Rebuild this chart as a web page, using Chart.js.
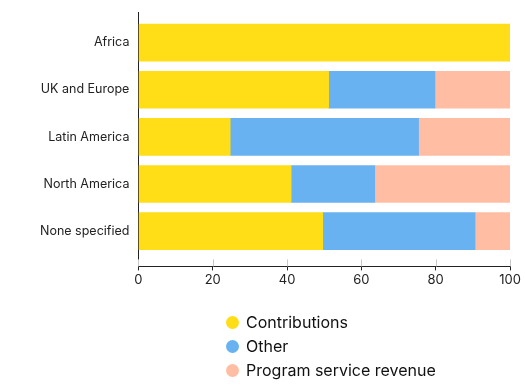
<!DOCTYPE html>
<html>
<head>
<meta charset="utf-8">
<script src="https://cdn.jsdelivr.net/npm/chart.js@4.4.0/dist/chart.umd.min.js"></script>
<style>
  body { margin: 0; background: #fff; }
  #wrap { position: relative; width: 525px; height: 388px; }
  #legend {
    position: absolute; left: 226px; top: 310px;
    font-family: Inter, sans-serif; font-size: 16px; color: #111;
  }
  #legend div { height: 24px; line-height: 24px; display: flex; align-items: center; }
  #legend span.dot { width: 13px; height: 13px; border-radius: 50%; margin-right: 7px; display: inline-block; }
</style>
</head>
<body>
<div id="wrap">
  <canvas id="chart" width="525" height="388"></canvas>
  <div id="legend"></div>
</div>
<script>
var regions = ['Africa', 'UK and Europe', 'Latin America', 'North America', 'None specified'];
var contributions = [100, 51.2, 24.7, 41.1, 49.6];
var other = [0, 28.6, 50.7, 22.5, 41.0];
var programRevenue = [0, 20.2, 24.6, 36.4, 9.4];
var xTicks = [0, 20, 40, 60, 80, 100];

var seriesNames = ['Contributions', 'Other', 'Program service revenue'];
var seriesColors = ['#FFDD17', '#69B2F1', '#FFBEA3'];

function toPoints(values) {
    return values.map(function (v, i) { return { x: v, y: i }; });
}

// light tick marks sitting just above the x axis line
var innerTicks = {
    id: 'innerTicks',
    afterDatasetsDraw: function (chart) {
        var ctx = chart.ctx, x = chart.scales.x, bottom = chart.chartArea.bottom;
        ctx.save();
        ctx.strokeStyle = '#c8c8c8';
        ctx.lineWidth = 1;
        xTicks.forEach(function (t) {
            var px = Math.round(x.getPixelForValue(t)) + 0.5;
            ctx.beginPath();
            ctx.moveTo(px, bottom - 7);
            ctx.lineTo(px, bottom);
            ctx.stroke();
        });
        ctx.restore();
    }
};

Chart.defaults.font.family = 'Inter, sans-serif';
Chart.defaults.font.size = 13;
Chart.defaults.color = '#222';

var ctx = document.getElementById('chart').getContext('2d');
var chart = new Chart(ctx, {
    type: 'bar',
    data: {
        datasets: [
            { label: seriesNames[0], data: toPoints(contributions), backgroundColor: seriesColors[0], barThickness: 37 },
            { label: seriesNames[1], data: toPoints(other), backgroundColor: seriesColors[1], barThickness: 37 },
            { label: seriesNames[2], data: toPoints(programRevenue), backgroundColor: seriesColors[2], barThickness: 37 }
        ]
    },
    options: {
        indexAxis: 'y',
        responsive: false,
        animation: false,
        layout: { padding: { left: 31, right: 15, top: 12, bottom: 98 } },
        plugins: {
            legend: { display: false },
            tooltip: { enabled: false }
        },
        scales: {
            x: {
                type: 'linear',
                stacked: true,
                min: 0,
                max: 100,
                afterBuildTicks: function (axis) {
                    axis.ticks = xTicks.map(function (v) { return { value: v }; });
                },
                grid: { display: true, drawOnChartArea: false, color: '#222', tickLength: 4 },
                border: { display: true, color: '#222' },
                ticks: { padding: 2, color: '#222', font: { size: 13 } }
            },
            y: {
                type: 'linear',
                stacked: true,
                reverse: true,
                offset: false,
                bounds: 'data',
                min: -0.65,
                max: 4.75,
                afterBuildTicks: function (axis) {
                    axis.ticks = regions.map(function (r, i) { return { value: i }; });
                },
                afterFit: function (axis) {
                    axis.paddingTop = 0;
                    axis.paddingBottom = 0;
                },
                grid: { display: false, drawTicks: false, offset: false },
                border: { display: true, color: '#222' },
                ticks: {
                    padding: 9,
                    color: '#222',
                    font: { size: 12.5 },
                    callback: function (v) { return regions[v]; }
                }
            }
        }
    },
    plugins: [innerTicks]
});

var legend = document.getElementById('legend');
seriesNames.forEach(function (name, i) {
    var row = document.createElement('div');
    var dot = document.createElement('span');
    dot.className = 'dot';
    dot.style.background = seriesColors[i];
    row.appendChild(dot);
    row.appendChild(document.createTextNode(name));
    legend.appendChild(row);
});
</script>
</body>
</html>
